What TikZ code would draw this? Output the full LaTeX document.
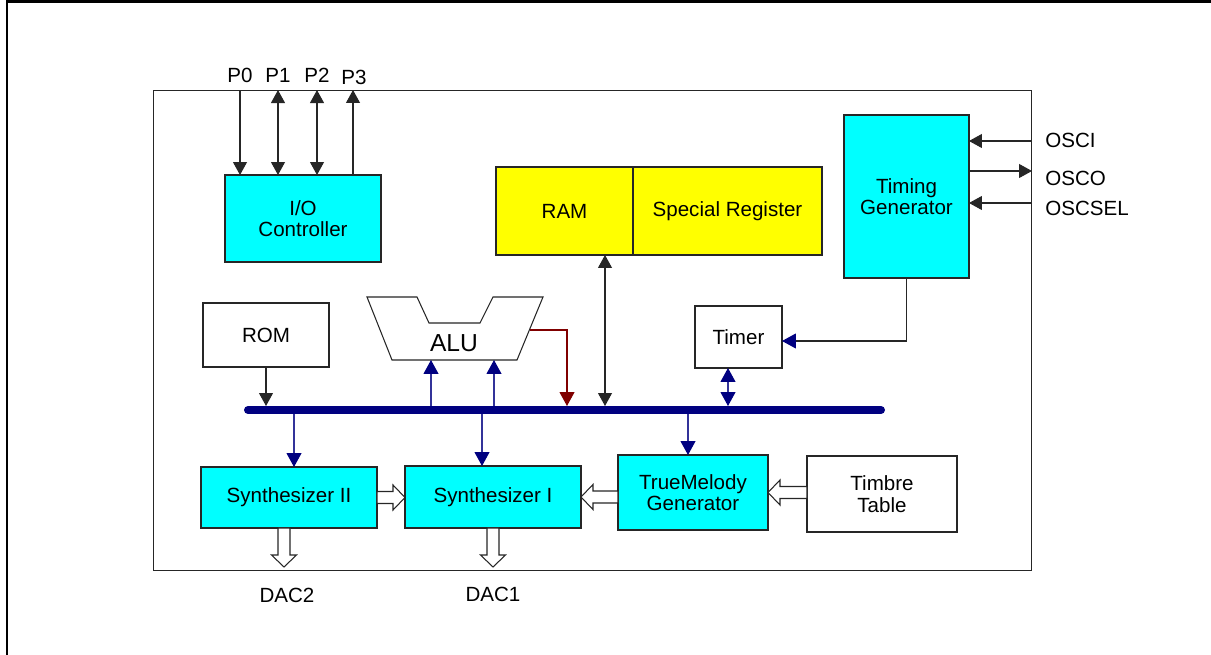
\documentclass[tikz,border=0pt]{standalone}
\usepackage{fontspec}
\setmainfont{Liberation Sans}
\usetikzlibrary{arrows.meta,calc}

\definecolor{busblue}{RGB}{0,0,128}
\definecolor{aqua}{RGB}{0,255,255}
\definecolor{lemon}{RGB}{255,255,0}
\definecolor{alured}{RGB}{128,0,0}
\newcommand{\lbl}{\fontsize{11.7}{12.2}\selectfont}

% hollow block arrow from #1 to #2
\newcommand{\fatarrow}[2]{%
  \coordinate (fa-h) at ($(#2)!0.24cm!(#1)$);
  \draw[fat] ($(#1)!0.12cm!90:(#2)$) -- ($(fa-h)!0.12cm!-90:(#1)$)
    -- ($(fa-h)!0.25cm!-90:(#1)$) -- (#2) -- ($(fa-h)!0.25cm!90:(#1)$)
    -- ($(fa-h)!0.12cm!90:(#1)$) -- ($(#1)!0.12cm!-90:(#2)$) -- cycle;}

\tikzset{
  >={Triangle[width=0.28cm,length=0.26cm]},
  navytip/.tip={Triangle[width=0.3cm,length=0.28cm,color=busblue]},
  redtip/.tip={Triangle[width=0.3cm,length=0.28cm,color=alured]},
  blk/.style={draw=black!85, line width=0.6pt, inner sep=0pt, outer sep=0pt,
    align=center, font=\lbl},
  cyanblk/.style={blk, fill=aqua},
  yellowblk/.style={blk, fill=lemon},
  sig/.style={draw=black!85, line width=0.6pt},
  navysig/.style={draw=busblue!80, line width=0.6pt},
  fat/.style={draw=black!85, line width=0.6pt, fill=white},
  txt/.style={inner sep=0pt, font=\lbl},
  bus/.style={draw=busblue, line width=0.16cm, line cap=round}
}

\begin{document}
\begin{tikzpicture}[x=0.02cm, y=-0.02cm]
\useasboundingbox (0,0) rectangle (1211,655);
% outer frame
\draw[line width=0.06cm] (6,1.5) -- (1211,1.5);
\draw[line width=0.04cm] (7,0) -- (7,655);
% chip outline
\node[blk, minimum width=17.58cm, minimum height=9.62cm] (chip) at (592.5,330.5) {};

% blocks
\node[cyanblk, minimum width=3.12cm, minimum height=1.74cm] (io) at (303,218.5) {I/O\\Controller};
\node[yellowblk, minimum width=2.74cm, minimum height=1.76cm] (ram) at (564.5,211) {RAM};
\node[yellowblk, minimum width=3.78cm, minimum height=1.76cm] (sreg) at (727.5,211) {Special Register};
\node[cyanblk, minimum width=2.5cm, minimum height=3.26cm] (tg) at (906.5,196.5) {Timing\\Generator};
\node[blk, minimum width=2.52cm, minimum height=1.28cm] (rom) at (266,335) {ROM};
\node[blk, minimum width=1.74cm, minimum height=1.24cm] (timer) at (738.5,337) {Timer};
\node[cyanblk, minimum width=3.52cm, minimum height=1.22cm] (synB) at (289,497.5) {Synthesizer II};
\node[cyanblk, minimum width=3.52cm, minimum height=1.24cm] (synA) at (493,497) {Synthesizer I};
\node[cyanblk, minimum width=3.0cm, minimum height=1.5cm] (tm) at (693,492.5) {\raisebox{-0.08cm}{\parbox{3cm}{\centering TrueMelody\\Generator}}};
\node[blk, minimum width=3.0cm, minimum height=1.52cm] (timbre) at (882,494) {\raisebox{-0.06cm}{\parbox{3cm}{\centering Timbre\\Table}}};

% ALU
\draw[sig, fill=white] (367,297) -- (417,297) -- (429,323) -- (480,323) -- (493,297)
  -- (543,297) -- (517,360) -- (392,360) -- cycle;
\node[inner sep=0pt, font=\fontsize{14}{16}\selectfont] (alu) at (454,343) {ALU};
\coordinate (aluBot) at (454,360);
\coordinate (aluOut) at (530,330);

% port pins
\node[txt] (p0) at (240,75) {P0};
\node[txt] (p1) at (278,75) {P1};
\node[txt] (p2) at (317,75) {P2};
\node[txt] (p3) at (354,77) {P3};
\draw[sig, ->] (p0 |- chip.north) -- (p0 |- io.north);
\draw[sig, <->] (p1 |- chip.north) -- (p1 |- io.north);
\draw[sig, <->] (p2 |- chip.north) -- (p2 |- io.north);
\draw[sig, <-] (353,90) -- (353,175);

% oscillator pins
\coordinate (osci) at (1032,141);
\coordinate (osco) at (1032,171);
\coordinate (oscsel) at (1032,203);
\node[txt, anchor=west] (osciL) at (1045,140) {OSCI};
\node[txt, anchor=west] (oscoL) at (1045,178) {OSCO};
\node[txt, anchor=west] (oscselL) at (1045,208) {OSCSEL};
\draw[sig, ->] (osci) -- (osci -| tg.east);
\draw[sig, <-] (osco) -- (osco -| tg.east);
\draw[sig, ->] (oscsel) -- (oscsel -| tg.east);

% bus taps
\coordinate (busL) at (248,410);
\coordinate (busR) at (881,410);
\coordinate (tAlu1) at (431,410);
\coordinate (tAlu2) at (494,410);
\coordinate (tRed) at (567,410);
\coordinate (tRam) at (605,410);
\coordinate (tTimer) at (728,410);
\coordinate (tSynB) at (294,410);
\coordinate (tSynA) at (482,410);
\coordinate (tTm) at (688,410);

\draw[sig, ->, shorten >=0.08cm] (rom.south) -- (rom.south |- busL);
\draw[navysig, -{navytip}] (tAlu1) -- (tAlu1 |- aluBot);
\draw[navysig, -{navytip}] (tAlu2) -- (tAlu2 |- aluBot);
\draw[draw=alured, line width=0.6pt, -{redtip}, shorten >=0.08cm] (aluOut) -| (tRed);
\draw[sig, <->, shorten <=0.08cm] (tRam) -- (tRam |- ram.south);
\draw[navysig, {navytip}-{navytip}, shorten <=0.08cm] (tTimer) -- (tTimer |- timer.south);
\draw[sig, -{navytip}] (tg.south) |- ($(timer.east)+(0,4)$);
\draw[navysig, -{navytip}] (tSynB) -- (tSynB |- synB.north);
\draw[navysig, -{navytip}] (tSynA) -- (tSynA |- synA.north);
\draw[navysig, -{navytip}] (tTm) -- (tTm |- tm.north);
\draw[bus] (busL) -- (busR);

% data paths
\fatarrow{synB.east}{synB.east -| synA.west}
\fatarrow{tm.west |- synA.east}{synA.east}
\fatarrow{timbre.west |- tm.east}{tm.east}
\coordinate (dac1in) at (493,567);
\coordinate (dac2in) at (284,567);
\fatarrow{dac1in |- synA.south}{dac1in}
\fatarrow{dac2in |- synB.south}{dac2in}
\node[txt] (dac2) at (287,595) {DAC2};
\node[txt] (dac1) at (493,594) {DAC1};
\end{tikzpicture}
\end{document}
